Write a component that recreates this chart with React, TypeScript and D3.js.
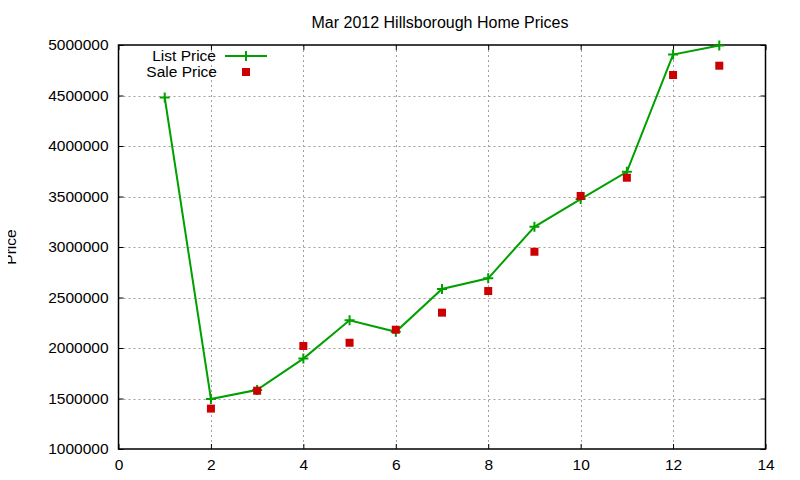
import React, { useRef, useEffect } from 'react';
import * as d3 from 'd3';

const xValues = [1, 2, 3, 4, 5, 6, 7, 8, 9, 10, 11, 12, 13];
const listPrices = [4480000, 1495000, 1585000, 1895000, 2275000, 2160000, 2585000, 2690000, 3200000, 3475000, 3745000, 4905000, 4995000];
const saleX = [2, 3, 4, 5, 6, 7, 8, 9, 10, 11, 12, 13];
const salePrices = [1400000, 1577000, 2020000, 2052000, 2181000, 2350000, 2564000, 2953000, 3505000, 3686000, 4703000, 4795000];
const xTicks = [0, 2, 4, 6, 8, 10, 12, 14];
const yTicks = [1000000, 1500000, 2000000, 2500000, 3000000, 3500000, 4000000, 4500000, 5000000];

const WIDTH = 800;
const HEIGHT = 480;
const FONT = '"Liberation Sans", Arial, sans-serif';

const PriceChart: React.FC = () => {
    const ref = useRef<SVGSVGElement>(null);

    useEffect(() => {
        if (!ref.current) return;
        const svg = d3.select(ref.current);
        svg.selectAll('*').remove();

        const left = 118.5, right = 765.5, top = 45, bottom = 449;

        const x = d3.scaleLinear().domain([0, 14]).range([left, right]);
        const y = d3.scaleLinear().domain([1000000, 5000000]).range([bottom, top]);

        svg.append('rect').attr('width', WIDTH).attr('height', HEIGHT).attr('fill', '#fff');

        // grid
        const grid = svg.append('g')
            .attr('stroke', '#a0a0a0')
            .attr('stroke-width', 1)
            .attr('stroke-dasharray', '2,3');
        grid.selectAll('.gx')
            .data(xTicks.slice(1, -1))
            .enter().append('line')
            .attr('x1', d => Math.round(x(d)) + 0.5)
            .attr('x2', d => Math.round(x(d)) + 0.5)
            .attr('y1', top).attr('y2', bottom);
        grid.selectAll('.gy')
            .data(yTicks.slice(1, -1))
            .enter().append('line')
            .attr('y1', d => Math.round(y(d)) + 0.5)
            .attr('y2', d => Math.round(y(d)) + 0.5)
            .attr('x1', left).attr('x2', right);

        // axes (ticks inward, mirrored)
        const axisColor = '#000';
        const tickLen = 5;
        svg.append('g')
            .attr('transform', `translate(0,${bottom})`)
            .call(d3.axisBottom(x).tickValues(xTicks).tickSize(-tickLen).tickPadding(10).tickFormat(d3.format('d')))
            .call(g => g.select('.domain').remove());
        svg.append('g')
            .attr('transform', `translate(0,${top})`)
            .call(d3.axisTop(x).tickValues(xTicks).tickSize(-tickLen).tickFormat(() => ''))
            .call(g => g.select('.domain').remove());
        svg.append('g')
            .attr('transform', `translate(${left},0)`)
            .call(d3.axisLeft(y).tickValues(yTicks).tickSize(-tickLen).tickPadding(10).tickFormat(d3.format('d')))
            .call(g => g.select('.domain').remove());
        svg.append('g')
            .attr('transform', `translate(${right},0)`)
            .call(d3.axisRight(y).tickValues(yTicks).tickSize(-tickLen).tickFormat(() => ''))
            .call(g => g.select('.domain').remove());

        svg.selectAll('.tick line').attr('stroke', axisColor);
        svg.selectAll('.tick text')
            .attr('font-family', FONT)
            .attr('font-size', 15.5)
            .attr('fill', '#000');

        svg.append('rect')
            .attr('x', left).attr('y', top)
            .attr('width', right - left).attr('height', bottom - top)
            .attr('fill', 'none').attr('stroke', axisColor).attr('stroke-width', 1.5);

        // list price line
        const listData = xValues.map((v, i) => [v, listPrices[i]] as [number, number]);
        const line = d3.line<[number, number]>().x(d => x(d[0])).y(d => y(d[1]));
        svg.append('path')
            .datum(listData)
            .attr('d', line)
            .attr('fill', 'none')
            .attr('stroke', '#00a000')
            .attr('stroke-width', 2);

        const cross = (g: d3.Selection<SVGGElement, unknown, null, undefined>, cx: number, cy: number) => {
            g.append('path')
                .attr('d', `M${cx - 5},${cy}H${cx + 5}M${cx},${cy - 5}V${cy + 5}`)
                .attr('stroke', '#00a000')
                .attr('stroke-width', 2);
        };
        const crosses = svg.append('g');
        listData.forEach(d => cross(crosses as any, x(d[0]), y(d[1])));

        // sale price points
        const sq = 8;
        svg.append('g')
            .selectAll('rect')
            .data(saleX.map((v, i) => [v, salePrices[i]] as [number, number]))
            .enter().append('rect')
            .attr('x', d => x(d[0]) - sq / 2)
            .attr('y', d => y(d[1]) - sq / 2)
            .attr('width', sq).attr('height', sq)
            .attr('fill', '#cc0000');

        // legend
        const legend = svg.append('g').attr('font-family', FONT).attr('font-size', 15.5);
        legend.append('text').attr('x', 216).attr('y', 61).attr('text-anchor', 'end').text('List Price');
        legend.append('line').attr('x1', 225).attr('x2', 267).attr('y1', 56).attr('y2', 56)
            .attr('stroke', '#00a000').attr('stroke-width', 2);
        cross(legend as any, 246, 56);
        legend.append('text').attr('x', 217).attr('y', 77).attr('text-anchor', 'end').text('Sale Price');
        legend.append('rect').attr('x', 246 - sq / 2).attr('y', 72 - sq / 2).attr('width', sq).attr('height', sq)
            .attr('fill', '#cc0000');

        // title and axis label
        svg.append('text')
            .attr('x', 440).attr('y', 28)
            .attr('text-anchor', 'middle')
            .attr('font-family', FONT).attr('font-size', 16)
            .text('Mar 2012 Hillsborough Home Prices');
        svg.append('text')
            .attr('transform', `translate(15.5,247) rotate(-90)`)
            .attr('text-anchor', 'middle')
            .attr('font-family', FONT).attr('font-size', 15.5)
            .text('Price');
    }, []);

    return <svg ref={ref} width={WIDTH} height={HEIGHT} style={{ display: 'block' }} />;
};

export default function App() {
    return (
        <div style={{ margin: -8 }}>
            <PriceChart />
        </div>
    );
}
